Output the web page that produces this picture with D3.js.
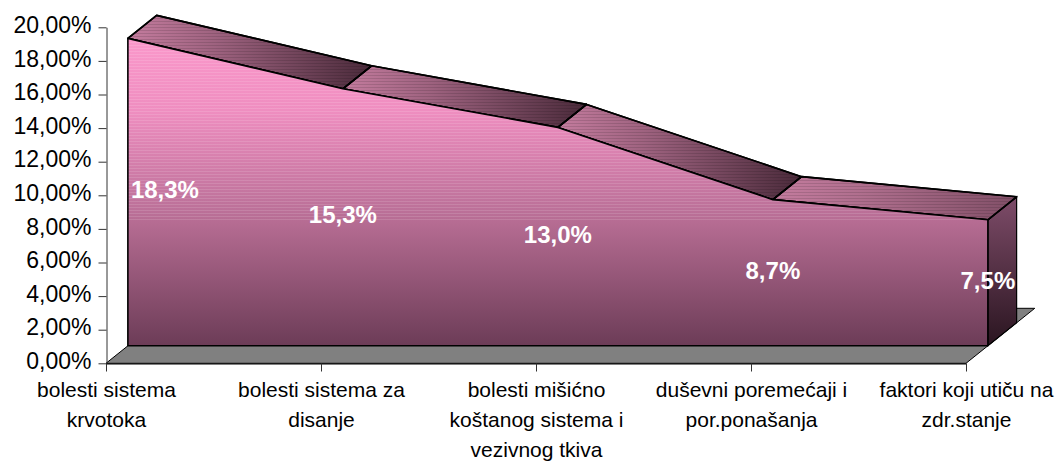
<!DOCTYPE html>
<html>
<head>
<meta charset="utf-8">
<script src="https://cdn.jsdelivr.net/npm/d3@7"></script>
<style>
  html, body { margin: 0; padding: 0; background: #fff; }
  svg { display: block; font-family: "Liberation Sans", Arial, sans-serif; }
</style>
</head>
<body>
<script>
// ---- data ----
const categories = [
  "bolesti sistema\nkrvotoka",
  "bolesti sistema za\ndisanje",
  "bolesti mišićno\nkoštanog sistema i\nvezivnog tkiva",
  "duševni poremećaji i\npor.ponašanja",
  "faktori koji utiču na\nzdr.stanje"
];
const values = [0.183, 0.153, 0.130, 0.087, 0.075];
const yTicks = [0, 0.02, 0.04, 0.06, 0.08, 0.10, 0.12, 0.14, 0.16, 0.18, 0.20];

// ---- layout ----
const W = 1058, H = 461;
const locale = d3.formatLocale({decimal: ",", thousands: ".", grouping: [3], currency: ["", ""]});
const tickFmt = locale.format(".2%");
const labelFmt = locale.format(".1%");

const x = d3.scalePoint().domain(categories).range([106, 966]);
const y = d3.scaleLinear().domain([0, 0.2]).range([363.3, 27.3]);

const FRONT = 17.5, BACK = 40.5, FLOOR = 55, SLANT = 1.25;
const pt = (i, v, d) => [x(categories[i]) + SLANT * d, y(v) - d];
const n = categories.length;

const svg = d3.select("body").append("svg").attr("width", W).attr("height", H);
const defs = svg.append("defs");

// front gradient (absolute y)
const gf = defs.append("linearGradient").attr("id", "gFront")
  .attr("gradientUnits", "userSpaceOnUse").attr("x1", 0).attr("x2", 0)
  .attr("y1", y(0.2) - FRONT).attr("y2", y(0) - FRONT);
[[0, "#ff9ccf"], [0.3, "#ef8ec0"], [0.6, "#bb7098"], [0.64, "#b46b91"], [1, "#6c3c57"]]
  .forEach(([o, c]) => gf.append("stop").attr("offset", o).attr("stop-color", c));

const gr = defs.append("linearGradient").attr("id", "gRight")
  .attr("x1", 0).attr("x2", 0).attr("y1", 0).attr("y2", 1);
[[0, "#7e4c69"], [1, "#2a1520"]]
  .forEach(([o, c]) => gr.append("stop").attr("offset", o).attr("stop-color", c));

const light = "#c47c9e", dark = "#4a2a3a";
for (let i = 0; i < n - 1; i++) {
  const drop = values[i] - values[i + 1];
  const endC = d3.interpolateRgb(light, dark)(Math.min(1, drop / 0.022));
  const g = defs.append("linearGradient").attr("id", "gTop" + i)
    .attr("x1", 0).attr("x2", 1).attr("y1", 0).attr("y2", 0);
  g.append("stop").attr("offset", 0).attr("stop-color", light);
  g.append("stop").attr("offset", 0.35).attr("stop-color", d3.interpolateRgb(light, endC)(0.3));
  g.append("stop").attr("offset", 1).attr("stop-color", endC);
}

// stripe patterns
const pl = defs.append("pattern").attr("id", "stripesLight").attr("patternUnits", "userSpaceOnUse")
  .attr("width", 8).attr("height", 3);
pl.append("rect").attr("width", 8).attr("height", 1).attr("fill", "#fff").attr("fill-opacity", 0.12);
const pd = defs.append("pattern").attr("id", "stripesDark").attr("patternUnits", "userSpaceOnUse")
  .attr("width", 8).attr("height", 3);
pd.append("rect").attr("width", 8).attr("height", 1).attr("fill", "#000").attr("fill-opacity", 0.12);
defs.append("clipPath").attr("id", "upperClip").append("rect")
  .attr("x", 0).attr("y", 0).attr("width", W).attr("height", 222);

const line = d3.line();
const poly = pts => line(pts) + "Z";

// ---- floor ----
const floorPts = [pt(0, 0, 0), pt(n - 1, 0, 0), pt(n - 1, 0, FLOOR), pt(0, 0, FLOOR)];
svg.append("path").attr("d", poly(floorPts))
  .attr("fill", "#808080").attr("stroke", "#000").attr("stroke-width", 1);

// ---- right side face ----
const rightPts = [pt(n - 1, values[n - 1], FRONT), pt(n - 1, values[n - 1], BACK),
                  pt(n - 1, 0, BACK), pt(n - 1, 0, FRONT)];
svg.append("path").attr("d", poly(rightPts))
  .attr("fill", "url(#gRight)").attr("stroke", "#000").attr("stroke-width", 1.2);

// ---- top faces ----
const tops = d3.range(n - 1).map(i => [pt(i, values[i], FRONT), pt(i + 1, values[i + 1], FRONT),
  pt(i + 1, values[i + 1], BACK), pt(i, values[i], BACK)]);
svg.append("g").selectAll("path.top").data(tops).join("path")
  .attr("d", d => poly(d))
  .attr("fill", (d, i) => `url(#gTop${i})`)
  .attr("stroke", "#000").attr("stroke-width", 1.6).attr("stroke-linejoin", "round");
svg.append("g").selectAll("path.tops").data(tops).join("path")
  .attr("d", d => poly(d)).attr("fill", "url(#stripesDark)");
svg.append("g").selectAll("path.topl").data(tops).join("path")
  .attr("d", d => poly(d)).attr("fill", "none")
  .attr("stroke", "#000").attr("stroke-width", 1.6).attr("stroke-linejoin", "round");

// ---- front face ----
const frontPts = values.map((v, i) => pt(i, v, FRONT))
  .concat([pt(n - 1, 0, FRONT), pt(0, 0, FRONT)]);
svg.append("path").attr("d", poly(frontPts)).attr("fill", "url(#gFront)");
svg.append("path").attr("d", poly(frontPts)).attr("fill", "url(#stripesLight)")
  .attr("clip-path", "url(#upperClip)");
svg.append("path").attr("d", poly(frontPts)).attr("fill", "none")
  .attr("stroke", "#000").attr("stroke-width", 1.6).attr("stroke-linejoin", "round");

// ---- y axis ----
const yAxis = svg.append("g").attr("transform", "translate(106.5,0)")
  .call(d3.axisLeft(y).tickValues(yTicks).tickFormat(tickFmt).tickSize(8).tickSizeOuter(0).tickPadding(7));
yAxis.select(".domain").attr("stroke", "#333");
yAxis.selectAll(".tick line").attr("stroke", "#333");
yAxis.selectAll(".tick text").attr("font-size", 23).attr("fill", "#000")
  .attr("font-family", "Liberation Sans, Arial, sans-serif").attr("dy", "0.23em");

// ---- category axis ----
const xAxis = svg.append("g").attr("transform", "translate(0,363.5)")
  .call(d3.axisBottom(x).tickSize(8).tickSizeOuter(0).tickFormat(""));
xAxis.select(".domain").attr("stroke", "#000");
xAxis.selectAll(".tick line").attr("stroke", "#333");
xAxis.selectAll(".tick").each(function (d) {
  const t = d3.select(this).append("text")
    .attr("fill", "#000").attr("font-size", 21).attr("text-anchor", "middle")
    .attr("font-family", "Liberation Sans, Arial, sans-serif")
    .attr("y", 33.2);
  d.split("\n").forEach((s, k) => {
    t.append("tspan").attr("x", 0).attr("dy", k === 0 ? 0 : 30.3).text(s);
  });
});

// ---- data labels ----
const leftEdge = pt(0, 0, FRONT)[0];
svg.append("g").selectAll("text").data(values).join("text")
  .attr("font-size", 24).attr("font-weight", "bold").attr("fill", "#fff")
  .attr("text-anchor", "middle")
  .attr("font-family", "Liberation Sans, Arial, sans-serif")
  .text(d => labelFmt(d))
  .each(function (d, i) {
    const w = this.getComputedTextLength();
    const p = pt(i, d / 2, FRONT);
    const cx = Math.max(p[0], leftEdge + w / 2 + 3);
    d3.select(this).attr("x", cx).attr("y", p[1] + 6);
  });
</script>
</body>
</html>
